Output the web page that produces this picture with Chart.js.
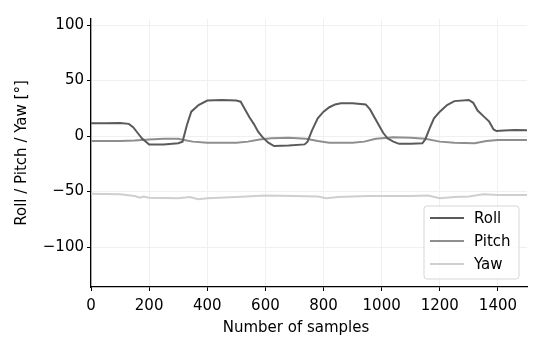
<!DOCTYPE html>
<html>
<head>
<meta charset="utf-8">
<script src="https://cdn.jsdelivr.net/npm/chart.js"></script>
<style>
  body { margin: 0; background: #fff; }
</style>
</head>
<body>
<canvas id="myChart" width="550" height="350"></canvas>
<script>
// values
var rollX = [0, 50, 100, 130, 145, 160, 175, 200, 250, 300, 315, 330, 345, 370, 400, 450, 500, 515, 530, 545, 560, 575, 590, 610, 630, 680, 735, 745, 760, 780, 800, 820, 840, 860, 900, 945, 960, 975, 990, 1005, 1020, 1040, 1060, 1100, 1140, 1150, 1165, 1180, 1200, 1225, 1250, 1300, 1315, 1330, 1350, 1370, 1385, 1395, 1420, 1460, 1500];
var rollY = [11.5, 11.5, 11.8, 11, 8, 3, -2, -7.5, -7.5, -6.5, -5, 10, 22, 28, 32, 32.5, 32, 31, 24, 17, 11, 4, -1, -6, -9, -8.5, -7.5, -5, 5, 16, 22, 26, 28.5, 29.5, 29.5, 28.5, 24, 17, 10, 3, -2, -5, -7, -7, -6.5, -3, 7, 16, 22, 28, 31.5, 32.5, 30, 23, 18, 13, 6, 4.5, 5, 5.5, 5.3];

var pitchX = [0, 100, 150, 200, 250, 300, 320, 350, 400, 500, 540, 580, 620, 680, 740, 780, 820, 900, 940, 980, 1040, 1100, 1150, 1200, 1250, 1320, 1360, 1400, 1500];
var pitchY = [-4.5, -4.5, -4, -3, -2.5, -2.5, -3.5, -5, -6, -6, -5, -3, -2, -1.5, -2.5, -4.5, -6, -6, -5, -2.5, -1, -1.5, -2.5, -5, -6, -6.5, -4.5, -3.5, -3.5];

var yawX = [0, 100, 150, 170, 180, 200, 300, 340, 370, 400, 500, 600, 700, 780, 810, 850, 950, 1100, 1160, 1200, 1250, 1300, 1350, 1400, 1500];
var yawY = [-52, -52.5, -54, -55.5, -54.5, -55.5, -56, -55, -57, -56, -55, -53.5, -54, -54.5, -56, -55, -54, -54, -53.5, -56, -55, -54.5, -52.5, -53, -53];

var seriesNames = ['Roll', 'Pitch', 'Yaw'];
var seriesColors = ['#5a5a5a', '#8e8e8e', '#cfcfcf'];

var xTicks = [0, 200, 400, 600, 800, 1000, 1200, 1400];
var yTicks = [-100, -50, 0, 50, 100];
var xTitle = 'Number of samples';

function toPoints(xs, ys) {
  return xs.map(function(x, i) { return { x: x, y: ys[i] }; });
}

var fontMain = { family: 'DejaVu Sans', size: 15 };

// legend drawn inside the plot, lower right, plus the x axis title
var legendBox = {
  id: 'legendBox',
  afterDraw: function(chart) {
    var ctx = chart.ctx;
    var area = chart.chartArea;
    var w = 95, h = 73;
    var x = area.right - 8 - w;
    var y = area.bottom - 8 - h;
    ctx.save();
    ctx.beginPath();
    ctx.roundRect(x, y, w, h, 3);
    ctx.fillStyle = 'rgba(255,255,255,0.8)';
    ctx.fill();
    ctx.strokeStyle = '#d6d6d6';
    ctx.lineWidth = 1;
    ctx.stroke();
    ctx.font = '15px "DejaVu Sans"';
    ctx.textBaseline = 'middle';
    chart.data.datasets.forEach(function(ds, i) {
      var ly = y + 12 + i * 23;
      ctx.beginPath();
      ctx.moveTo(x + 6, ly);
      ctx.lineTo(x + 40, ly);
      ctx.strokeStyle = ds.borderColor;
      ctx.lineWidth = 2;
      ctx.stroke();
      ctx.fillStyle = '#000';
      ctx.fillText(ds.label, x + 50, ly + 1);
    });

    // x title sits a little left of centre in the reference
    ctx.textAlign = 'center';
    ctx.fillText(xTitle, (area.left + area.right) / 2 - 13, area.bottom + 41);
    ctx.restore();
  }
};

function keepTicks(list) {
  return function(scale) {
    scale.ticks = list.map(function(v) { return { value: v }; });
  };
}

function minusSign(v) {
  return String(v).replace('-', '\u2212');
}

var ctx = document.getElementById('myChart');
var myChart = new Chart(ctx, {
  type: 'line',
  data: {
    datasets: [
      { label: seriesNames[0], data: toPoints(rollX, rollY), borderColor: seriesColors[0] },
      { label: seriesNames[1], data: toPoints(pitchX, pitchY), borderColor: seriesColors[1] },
      { label: seriesNames[2], data: toPoints(yawX, yawY), borderColor: seriesColors[2] }
    ]
  },
  options: {
    responsive: false,
    animation: false,
    layout: { padding: { top: 19, right: 23, left: 0, bottom: 0 } },
    elements: {
      line: { borderWidth: 2, tension: 0, fill: false },
      point: { radius: 0 }
    },
    plugins: {
      legend: { display: false },
      tooltip: { enabled: false }
    },
    scales: {
      x: {
        type: 'linear',
        min: 0,
        max: 1500,
        afterBuildTicks: keepTicks(xTicks),
        afterFit: function(scale) { scale.height = 63; },
        ticks: { color: '#000', font: fontMain, padding: 6, maxRotation: 0, callback: minusSign },
        grid: { color: '#f0f0f0', tickColor: '#000', tickLength: 4, lineWidth: 1 },
        border: { color: '#000', width: 1.3 }
      },
      y: {
        min: -136,
        max: 105.5,
        afterBuildTicks: keepTicks(yTicks),
        afterFit: function(scale) { scale.width = 91; },
        ticks: { color: '#000', font: fontMain, padding: 3, callback: minusSign },
        grid: { color: '#f0f0f0', tickColor: '#000', tickLength: 4, lineWidth: 1 },
        border: { color: '#000', width: 1.3 },
        title: { display: true, text: 'Roll / Pitch / Yaw [°]', color: '#000', font: fontMain, padding: { top: 13, bottom: 4 } }
      }
    }
  },
  plugins: [legendBox]
});
</script>
</body>
</html>
